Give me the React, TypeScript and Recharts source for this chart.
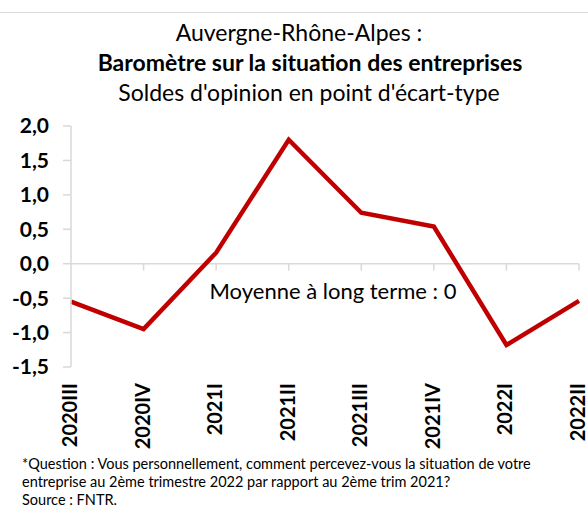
import { LineChart, Line, XAxis, YAxis, ReferenceLine } from "recharts";

const categories = ["2020III", "2020IV", "2021I", "2021II", "2021III", "2021IV", "2022I", "2022II"];
const soldes = [-0.55, -0.95, 0.16, 1.8, 0.74, 0.54, -1.18, -0.54];
const yTicks = [-1.5, -1.0, -0.5, 0, 0.5, 1.0, 1.5, 2.0];

const data = categories.map((c, i) => ({ periode: c, solde: soldes[i] }));

const FONT = "Lato, 'Open Sans', sans-serif";

function CategoryTick({ x, y, payload }: any) {
  const ty = y + 8;
  return (
    <text
      x={x}
      y={ty}
      dy="0.3em"
      transform={`rotate(-90, ${x}, ${ty})`}
      textAnchor="end"
      fontFamily={FONT}
      fontWeight={700}
      fontSize={20}
      fill="#000"
    >
      {payload.value}
    </text>
  );
}

export default function App() {
  return (
    <div style={{ position: "absolute", left: 0, top: 0, width: 588, height: 508, background: "#fff", fontFamily: FONT }}>
      <div style={{ position: "absolute", left: 0, top: 12, width: 588, borderTop: "1.5px solid #d9d9d9" }} />
      <div style={{ position: "absolute", left: 0, top: 17, width: 598, textAlign: "center", fontSize: 23, lineHeight: "30px" }}>
        Auvergne-Rhône-Alpes :
      </div>
      <div style={{ position: "absolute", left: 0, top: 47, width: 620, textAlign: "center", fontSize: 23, fontWeight: 700, lineHeight: "30px" }}>
        Baromètre sur la situation des entreprises
      </div>
      <div style={{ position: "absolute", left: 0, top: 77, width: 618, textAlign: "center", fontSize: 23, lineHeight: "30px" }}>
        Soldes d'opinion en point d'écart-type
      </div>
      <div style={{ position: "absolute", left: 0, top: 0 }}>
        <LineChart width={588} height={508} data={data} margin={{ top: 126, right: 9, bottom: 51, left: 0 }}>
          <YAxis
            type="number"
            domain={[-1.5, 2]}
            ticks={yTicks}
            interval={0}
            width={71}
            tickFormatter={(v: number) => v.toFixed(1).replace(".", ",")}
            tick={{ fontFamily: FONT, fontWeight: 700, fontSize: 21, fill: "#000" }}
            axisLine={{ stroke: "#d9d9d9", strokeWidth: 1.5 }}
            tickLine={{ stroke: "#d9d9d9", strokeWidth: 1.5 }}
            tickSize={8}
            tickMargin={14}
          />
          <XAxis
            dataKey="periode"
            height={90}
            interval={0}
            axisLine={false}
            tickLine={false}
            tick={<CategoryTick />}
          />
          <ReferenceLine
            y={0}
            stroke="#d9d9d9"
            strokeWidth={1.5}
            label={{ value: "Moyenne à long terme : 0", position: "bottom", offset: 20, dx: 8, fontFamily: FONT, fontSize: 22, fill: "#000" }}
          />
          {categories.slice(1).map((c) => (
            <ReferenceLine
              key={c}
              segment={[{ x: c, y: 0 }, { x: c, y: -0.1 }]}
              stroke="#d9d9d9"
              strokeWidth={1.5}
            />
          ))}
          <Line
            type="linear"
            dataKey="solde"
            stroke="#c00000"
            strokeWidth={4.5}
            dot={false}
            isAnimationActive={false}
          />
        </LineChart>
      </div>
      <div style={{ position: "absolute", left: 22, top: 455, fontSize: 14.5, lineHeight: "18px", color: "#000" }}>
        *Question : Vous personnellement, comment percevez-vous la situation de votre
        <br />
        entreprise au 2ème trimestre 2022 par rapport au 2ème trim 2021?
        <br />
        Source : FNTR.
      </div>
    </div>
  );
}
